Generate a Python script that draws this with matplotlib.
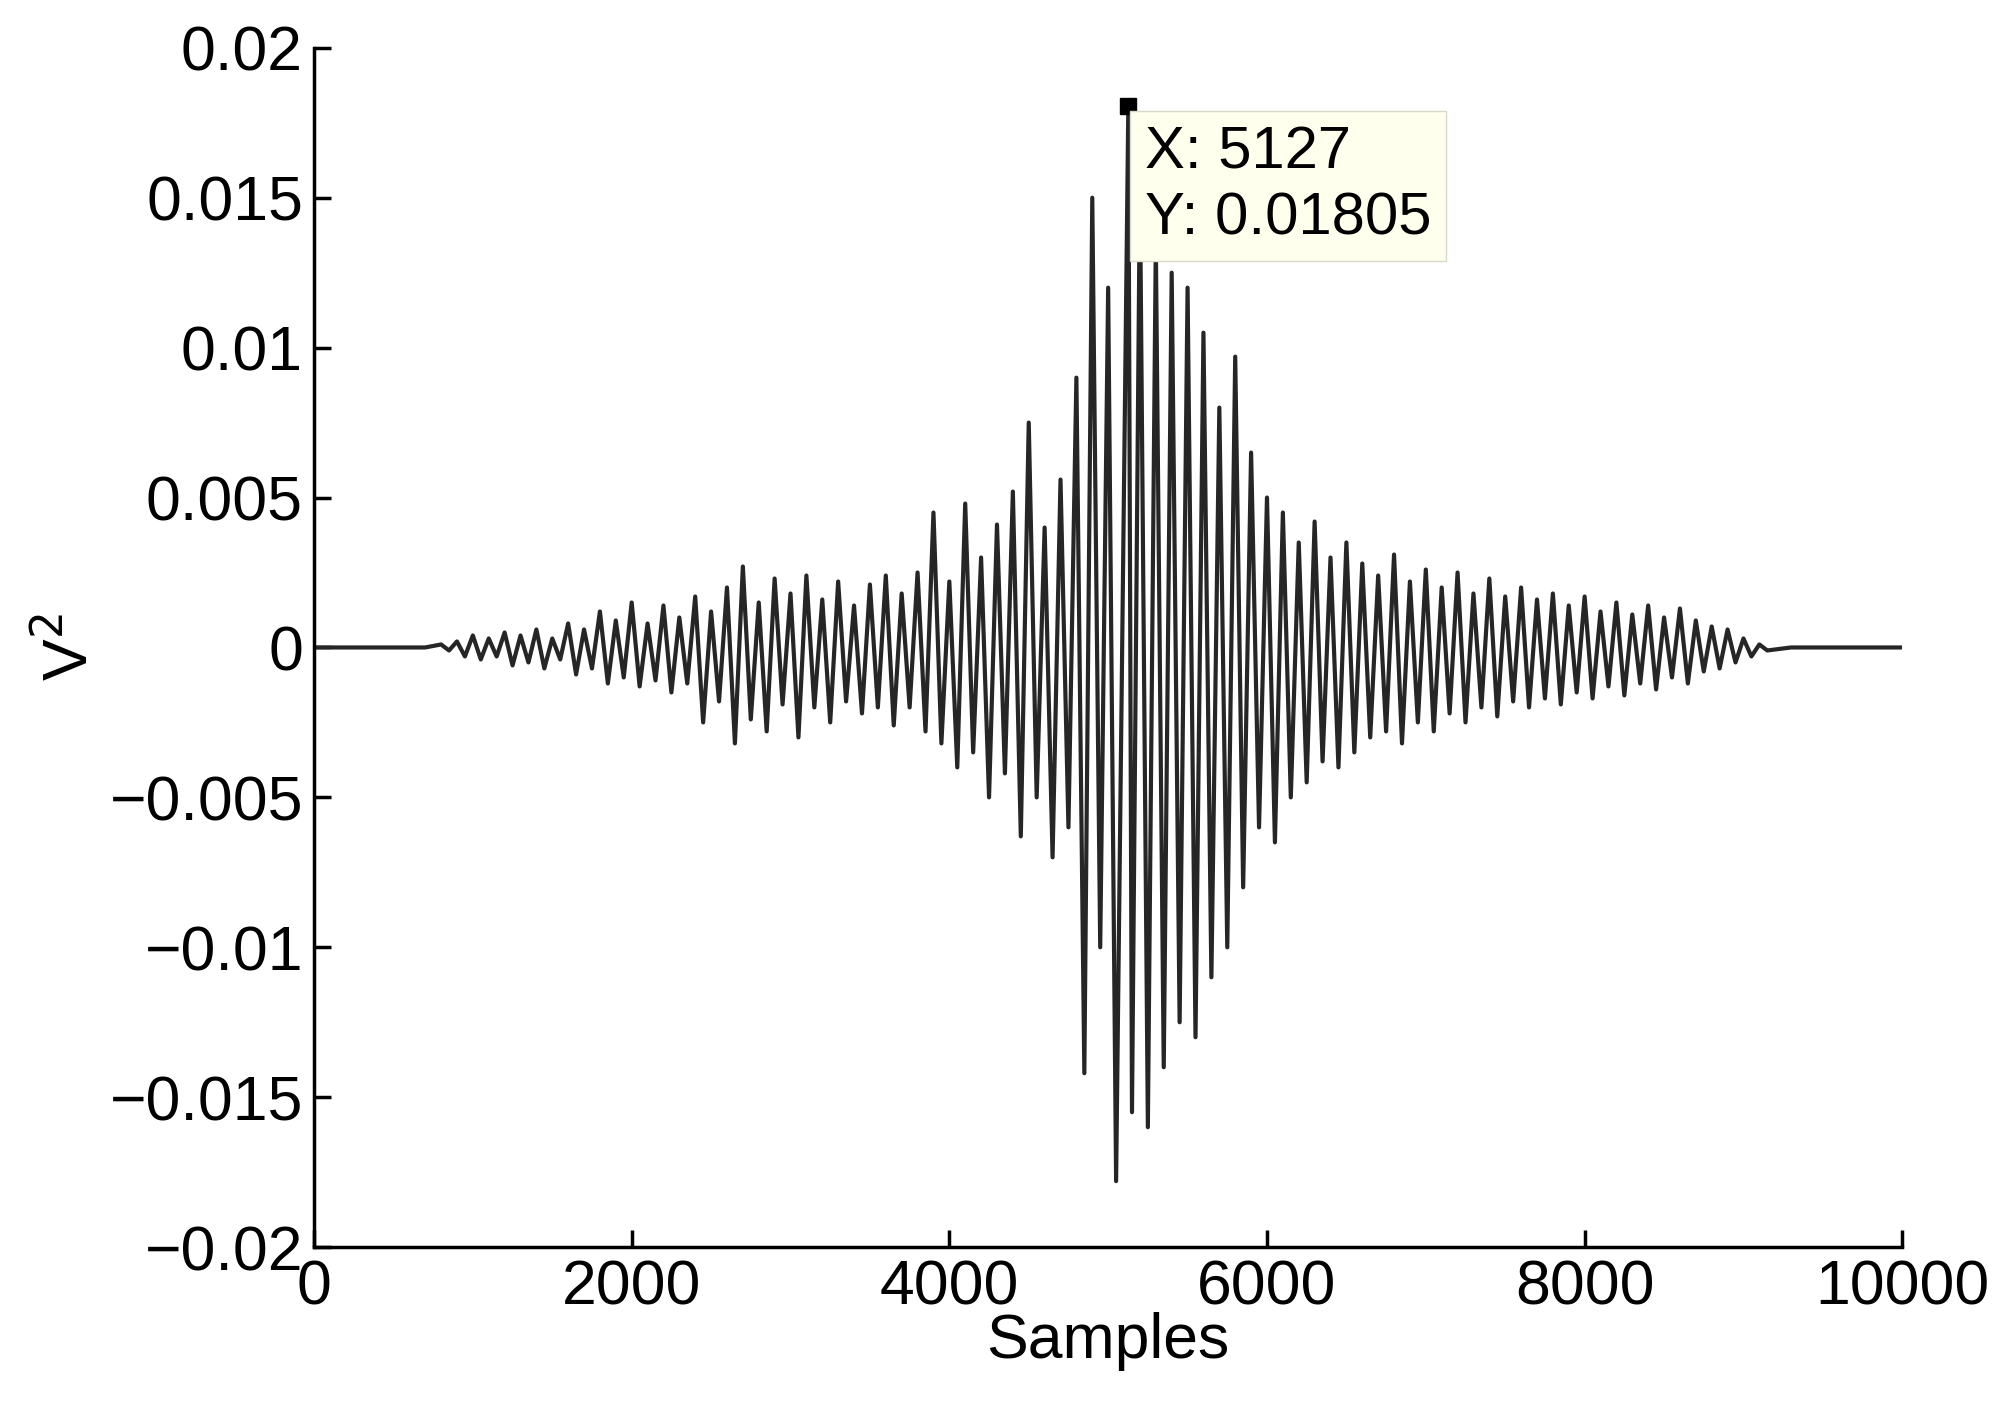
import numpy as np
import matplotlib
matplotlib.use("Agg")
import matplotlib.pyplot as plt

plt.rcParams['font.family'] = ['Liberation Sans', 'DejaVu Sans']

# extrema of the waveform (x1e-3), peaks at 800+100k, troughs at 850+100k
peaks = [0.1,0.2,0.4,0.3,0.5,0.4,0.6,0.3,
         0.8,0.6,1.2,0.9,1.5,0.8,1.4,1.0,1.7,1.2,
         2.0,2.7,1.5,2.3,1.8,2.4,1.6,2.2,1.4,2.1,
         2.4,1.8,2.5,4.5,2.2,4.8,3.0,4.1,5.2,7.5,
         4.0,5.6,9.0,15.0,12.0,18.05,15.5,13.5,12.5,12.0,
         10.5,8.0,9.7,6.5,5.0,4.5,3.5,4.2,3.0,3.5,
         2.8,2.4,3.1,2.2,2.6,2.0,2.5,1.8,2.3,1.7,
         2.0,1.6,1.8,1.4,1.7,1.2,1.5,1.1,1.4,1.0,
         1.3,0.9,0.7,0.6,0.3,0.1]
troughs = [-0.1,-0.3,-0.4,-0.3,-0.6,-0.5,-0.7,-0.4,
           -0.9,-0.7,-1.2,-1.0,-1.3,-1.1,-1.5,-1.2,-2.5,-1.8,
           -3.2,-2.4,-2.8,-1.9,-3.0,-2.0,-2.5,-1.8,-2.2,-2.0,
           -2.6,-2.0,-2.8,-3.2,-4.0,-3.5,-5.0,-4.2,-6.3,-5.0,
           -7.0,-6.0,-14.2,-10.0,-17.8,-15.5,-16.0,-14.0,-12.5,-13.0,
           -11.0,-10.0,-8.0,-6.0,-6.5,-5.0,-4.5,-3.8,-4.0,-3.5,
           -3.0,-2.8,-3.2,-2.5,-2.8,-2.2,-2.5,-2.0,-2.3,-1.8,
           -2.0,-1.7,-1.9,-1.5,-1.7,-1.3,-1.6,-1.2,-1.4,-1.0,
           -1.2,-0.8,-0.7,-0.5,-0.3,-0.1]
start, step = 800, 100
tip_x, tip_y = 5127, 0.01805

xs = [0, 700]
ys = [0, 0]
for k, (p, t) in enumerate(zip(peaks, troughs)):
    xp = start + step * k
    if p == 18.05:
        xp = tip_x
    xs += [xp, start + step * k + step / 2]
    ys += [p * 1e-3, t * 1e-3]
xs += [9300, 10000]
ys += [0, 0]

fig = plt.figure(figsize=(20.13, 14.06), dpi=100)
ax = fig.add_axes([0.156, 0.113, 0.789, 0.853])
ax.plot(xs, ys, color='#262626', lw=3)
ax.set_xlim(0, 10000)
ax.set_ylim(-0.02, 0.02)
ax.set_xticks([0, 2000, 4000, 6000, 8000, 10000])
ax.set_yticks([-0.02, -0.015, -0.01, -0.005, 0, 0.005, 0.01, 0.015, 0.02])
ax.set_yticklabels(['−0.02', '−0.015', '−0.01', '−0.005', '0', '0.005', '0.01', '0.015', '0.02'])
for s in ['top', 'right']:
    ax.spines[s].set_visible(False)
for s in ['left', 'bottom']:
    ax.spines[s].set_linewidth(2.5)
ax.tick_params(direction='in', length=12, width=2.5, labelsize=45, pad=8)
ax.set_xlabel('Samples', fontsize=45, labelpad=-4)
ax.set_ylabel('V$^2$', fontsize=45, labelpad=6)

ax.plot([tip_x], [tip_y], 's', color='black', ms=11)
ax.annotate(f'X: {tip_x}\nY: {tip_y}', xy=(tip_x, tip_y), xytext=(12, -14),
            textcoords='offset points', ha='left', va='top', fontsize=43,
            linespacing=1.25,
            bbox=dict(boxstyle='square,pad=0.25', fc='#FFFFEE', ec='#D8D8C8', lw=1))
fig.savefig('out.png', dpi=100)
